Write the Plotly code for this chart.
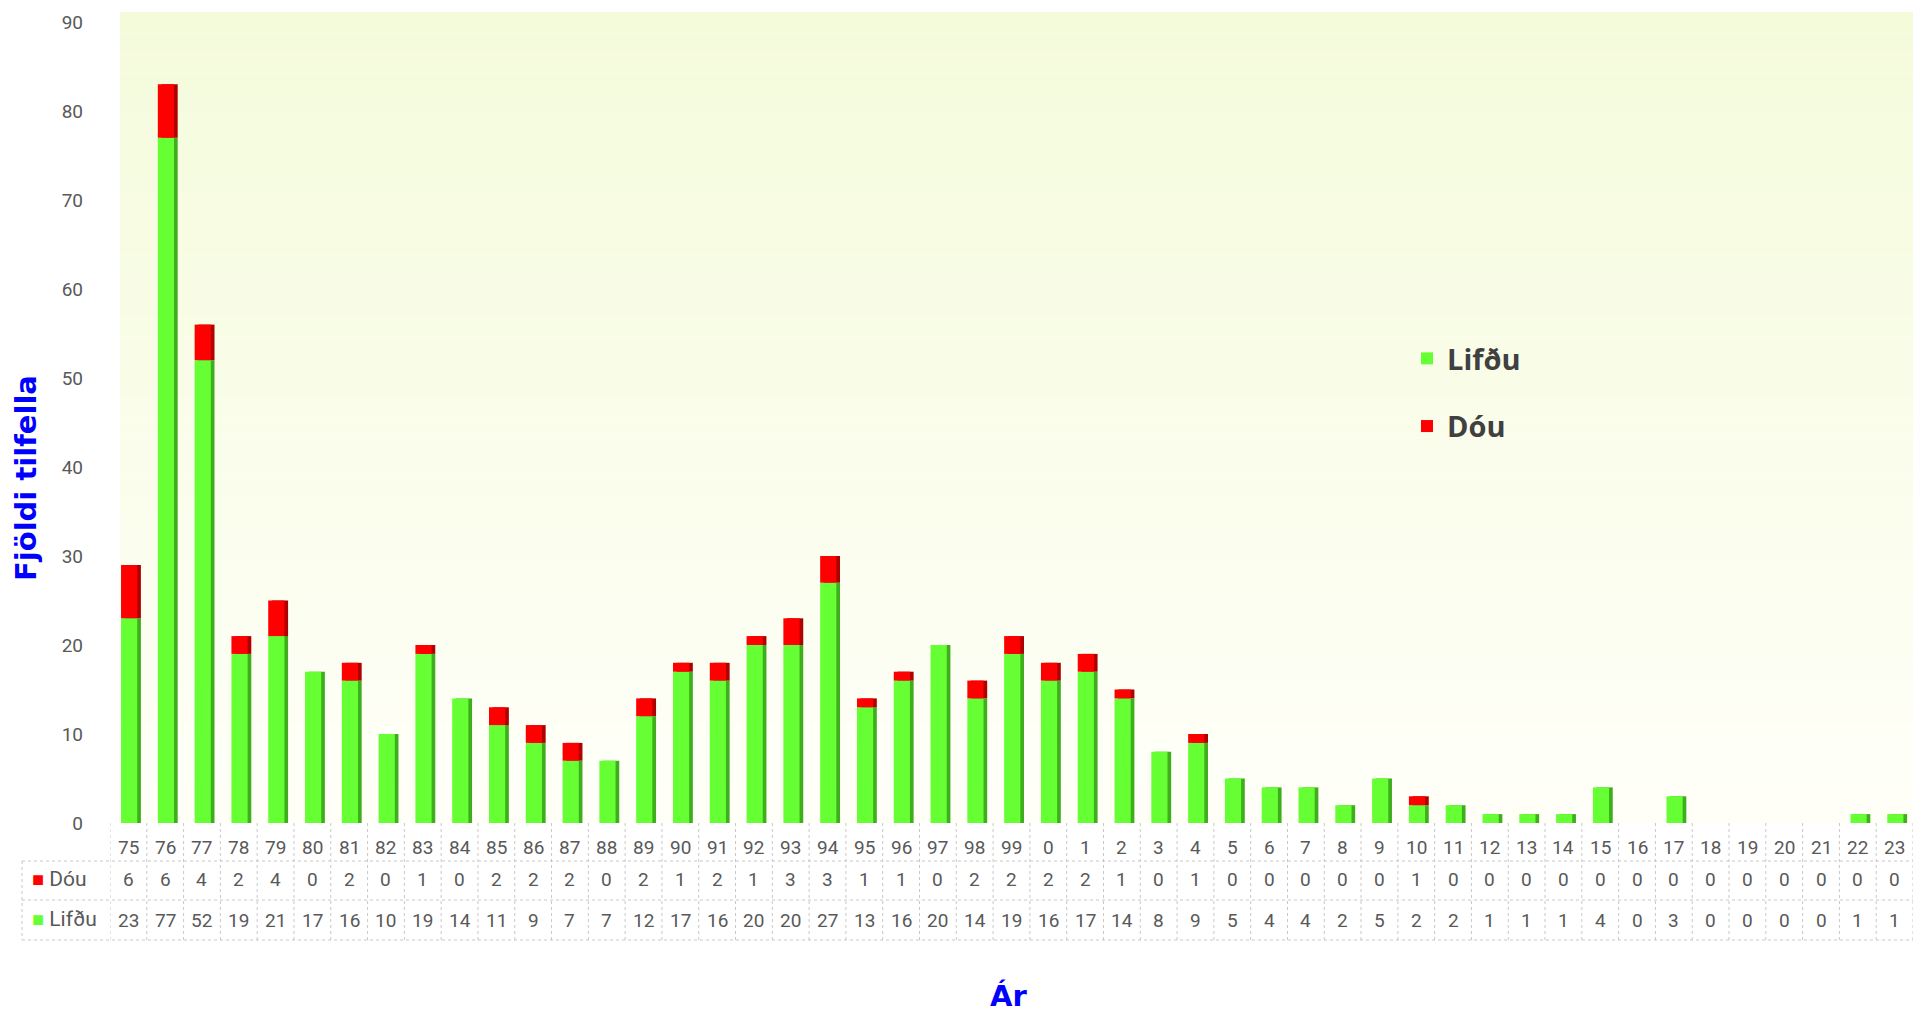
import plotly.graph_objects as go

years = ["75","76","77","78","79","80","81","82","83","84","85","86","87","88","89","90",
         "91","92","93","94","95","96","97","98","99","0","1","2","3","4","5","6","7","8",
         "9","10","11","12","13","14","15","16","17","18","19","20","21","22","23"]
dou = [6,6,4,2,4,0,2,0,1,0,2,2,2,0,2,1,2,1,3,3,1,1,0,2,2,2,2,1,0,1,0,0,0,0,0,1,0,0,0,0,0,0,0,0,0,0,0,0,0]
lifdu = [23,77,52,19,21,17,16,10,19,14,11,9,7,7,12,17,16,20,20,27,13,16,20,14,19,16,17,14,8,9,5,4,4,2,5,2,2,1,1,1,4,0,3,0,0,0,0,1,1]
y_ticks = [0,10,20,30,40,50,60,70,80,90]

GREEN = "#66FF33"
GREEN_DARK = "#3FAE1C"
RED = "#FF0000"
RED_DARK = "#B00000"
GREY = "#595959"
TICKFONT = "Liberation Sans Narrow, Roboto, sans-serif"

# page has an 8px body margin; positions below are given in page pixels
OFF = 8
W, H = 1921 - 2 * OFF, 1025 - 2 * OFF
ZERO_PIX, TOP_PIX, LEFT_PIX = 823, 12, 110
L, R = LEFT_PIX - OFF, 0
T = TOP_PIX - OFF
B = H - (ZERO_PIX - OFF)
plot_h = H - T - B
plot_w = W - L - R
unit = (ZERO_PIX - 22) / 90.0

def py(pix):
    return (ZERO_PIX - pix) / plot_h

def px(pix):
    return (pix - LEFT_PIX) / plot_w

FACE_W, FACE_OFF, SIDE_SHIFT = 0.44, -0.2, 0.1

fig = go.Figure()
# 3D-like side shading (drawn behind)
fig.add_trace(go.Bar(x=years, y=lifdu, base=[0] * len(lifdu), width=FACE_W,
                     offset=FACE_OFF + SIDE_SHIFT, marker=dict(color=GREEN_DARK, line=dict(width=0)),
                     showlegend=False, hoverinfo="skip"))
fig.add_trace(go.Bar(x=years, y=dou, base=lifdu, width=FACE_W,
                     offset=FACE_OFF + SIDE_SHIFT, marker=dict(color=RED_DARK, line=dict(width=0)),
                     showlegend=False, hoverinfo="skip"))
fig.add_trace(go.Bar(x=years, y=lifdu, base=[0] * len(lifdu), name="Lifðu", width=FACE_W,
                     offset=FACE_OFF, marker=dict(color=GREEN, line=dict(width=0)), legendgroup="a"))
fig.add_trace(go.Bar(x=years, y=dou, base=lifdu, name="Dóu", width=FACE_W,
                     offset=FACE_OFF, marker=dict(color=RED, line=dict(width=0)), legendgroup="b"))

shapes = []
n = 40
top = (244, 251, 219)
bot = (255, 255, 248)
for k in range(n):
    f = k / (n - 1)
    c = tuple(int(round(top[j] + (bot[j] - top[j]) * f)) for j in range(3))
    shapes.append(dict(type="rect", xref="paper", yref="paper", x0=px(120), x1=1,
                       y0=1 - (k + 1) / n, y1=1 - k / n, fillcolor="rgb(%d,%d,%d)" % c,
                       line=dict(width=0), layer="below"))

line_style = dict(color="#C8C8C8", width=1, dash="dot")
for i in range(len(years) + 1):
    shapes.append(dict(type="line", xref="x", yref="paper", x0=i - 0.5, x1=i - 0.5,
                       y0=py(823), y1=py(940), line=line_style))
shapes.append(dict(type="line", xref="paper", yref="paper", x0=px(22), x1=px(22),
                   y0=py(861), y1=py(940), line=line_style))
for ypix in (861, 900, 940):
    shapes.append(dict(type="line", xref="paper", yref="paper", x0=px(22), x1=1,
                       y0=py(ypix), y1=py(ypix), line=line_style))

ann = []
tf = dict(family=TICKFONT, size=19, color=GREY)
cell = dict(xref="x", yref="paper", showarrow=False, font=tf, xanchor="center", yanchor="middle")
for i, yr in enumerate(years):
    ann.append(dict(x=i, y=py(847), text=yr, **cell))
    ann.append(dict(x=i, y=py(880), text=str(dou[i]), **cell))
    ann.append(dict(x=i, y=py(920), text=str(lifdu[i]), **cell))
hf = dict(family=TICKFONT, size=21, color=GREY)
ann.append(dict(x=px(30), y=py(879), xref="paper", yref="paper", xanchor="left", yanchor="middle",
                text='<span style="color:%s;font-size:20px">■</span> Dóu' % RED, showarrow=False, font=hf))
ann.append(dict(x=px(30), y=py(919), xref="paper", yref="paper", xanchor="left", yanchor="middle",
                text='<span style="color:%s;font-size:20px">■</span> Lifðu' % GREEN, showarrow=False, font=hf))
ann.append(dict(x=px(26), y=py(478), xref="paper", yref="paper", xanchor="center", yanchor="middle",
                text="<b>Fjöldi tilfella</b>", textangle=-90, showarrow=False,
                font=dict(family="DejaVu Sans", size=29, color="#0000FF")))
ann.append(dict(x=px(1008), y=py(1015), xref="paper", yref="paper", xanchor="center", yanchor="bottom",
                text="<b>Ár</b>", showarrow=False,
                font=dict(family="DejaVu Sans", size=29, color="#0000FF")))

fig.update_layout(
    width=W, height=H,
    margin=dict(l=L, r=R, t=T, b=B, autoexpand=False),
    barmode="overlay",
    paper_bgcolor="white",
    plot_bgcolor="rgba(0,0,0,0)",
    showlegend=True,
    legend=dict(x=px(1407), y=py(333), xanchor="left", yanchor="top",
                font=dict(family="Open Sans", size=29, color="#404040", weight="bold"),
                bgcolor="rgba(0,0,0,0)", tracegroupgap=27, traceorder="grouped"),
    xaxis=dict(type="category", range=[-0.5, len(years) - 0.5], showticklabels=False,
               showgrid=False, zeroline=False, showline=False, ticks=""),
    yaxis=dict(range=[0, 90 + (22 - TOP_PIX) / unit], tickvals=y_ticks, showgrid=False,
               zeroline=False, showline=False, ticks="",
               tickfont=dict(family=TICKFONT, size=19, color=GREY), ticklabelstandoff=26),
    shapes=shapes,
    annotations=ann,
)

fig.write_html("out.html")
